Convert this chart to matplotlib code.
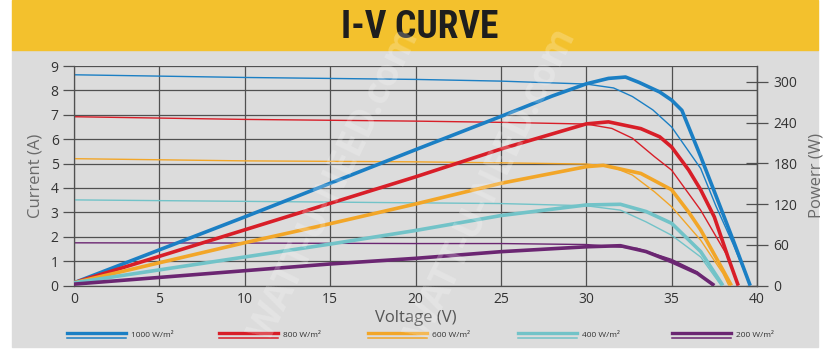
import matplotlib
matplotlib.use("Agg")
import matplotlib.pyplot as plt
from matplotlib import font_manager
from matplotlib.patches import Rectangle
from matplotlib.lines import Line2D

W, H = 840, 350

# ---- data ----
labels = ["1000 W/m²", "800 W/m²", "600 W/m²", "400 W/m²", "200 W/m²"]
colors = ["#1b7fc4", "#d81e28", "#f2a628", "#72c3c8", "#6b2672"]

# current curves (left axis, A)
v_i_1000 = [0, 10, 20, 25, 30, 31.6, 32.7, 33.9, 35, 36.7, 37.6, 38.6, 39.6]
i_1000 = [8.64, 8.53, 8.45, 8.38, 8.26, 8.1, 7.75, 7.2, 6.5, 4.8, 3.25, 1.7, 0]
v_i_800 = [0, 10, 20, 25, 30, 31.5, 32.7, 34, 35, 36.7, 38.3, 38.9]
i_800 = [6.92, 6.81, 6.74, 6.69, 6.62, 6.44, 6.04, 5.28, 4.73, 3.09, 1.17, 0]
v_i_600 = [0, 10, 20, 25, 30, 31.5, 32.7, 34, 35, 36.7, 38, 38.35]
i_600 = [5.2, 5.11, 5.07, 5.03, 4.98, 4.87, 4.53, 3.84, 3.23, 1.86, 0.5, 0]
v_i_400 = [0, 10, 20, 25, 30, 32, 33.5, 35, 36.7, 37.9]
i_400 = [3.51, 3.45, 3.39, 3.36, 3.27, 3.09, 2.61, 2.06, 1.17, 0]
v_i_200 = [0, 10, 20, 25, 30, 33, 35, 36.5, 37.4]
i_200 = [1.75, 1.74, 1.72, 1.72, 1.68, 1.52, 1.07, 0.56, 0]

# power curves (right axis, W)
v_p_1000 = [0, 10, 20, 25, 28, 30, 31.3, 32.3, 33.1, 34.3, 35, 35.6, 36.7, 37.6, 38.6, 39.6]
p_1000 = [4, 101, 200, 249, 279, 297, 305, 307, 299, 285, 273, 258, 190, 132, 67, 0]
v_p_800 = [0, 10, 15, 20, 25, 30, 31.3, 33.2, 34.3, 35, 36, 36.7, 37.5, 38.3, 38.9]
p_800 = [4, 82, 121, 160, 201, 238, 241, 231, 219, 204, 170, 141, 101, 42, 0]
v_p_600 = [0, 10, 15, 20, 25, 30, 31, 33.2, 35, 36, 36.7, 38, 38.5]
p_600 = [4, 63, 91, 120, 150.5, 175, 177, 165, 141, 108, 82, 23, 0]
v_p_400 = [0, 10, 15, 20, 25, 30, 32, 33.5, 35, 36.7, 38]
p_400 = [4, 42, 61, 81, 103, 118.6, 119.6, 109, 91.6, 50, 0]
v_p_200 = [0, 10, 15, 20, 25, 30, 32, 33.5, 35, 36.5, 37.5]
p_200 = [2, 21.8, 31.7, 40, 49.8, 57, 58.6, 50, 35, 18, 0]

current = [(v_i_1000, i_1000), (v_i_800, i_800), (v_i_600, i_600),
           (v_i_400, i_400), (v_i_200, i_200)]
power = [(v_p_1000, p_1000), (v_p_800, p_800), (v_p_600, p_600),
         (v_p_400, p_400), (v_p_200, p_200)]

x_ticks = list(range(0, 41, 5))
i_ticks = list(range(0, 10))
p_ticks = [0, 60, 120, 180, 240, 300]


def fx(px):
    return px / W


def fy(py):
    return 1 - py / H


# pick a narrow bold face for the banner if one is around
installed = {f.name for f in font_manager.fontManager.ttflist}
narrow = [n for n in ["Roboto Condensed", "Liberation Sans Narrow",
                      "Open Sans Condensed", "DejaVu Sans Condensed"] if n in installed]
title_family = narrow[0] if narrow else "DejaVu Sans"
title_size = 27 if narrow else 22

fig = plt.figure(figsize=(W / 100, H / 100), dpi=100)
fig.patch.set_facecolor("white")

# panel background and title banner
fig.patches.append(Rectangle((fx(12), fy(347)), fx(806), 297 / H,
                             transform=fig.transFigure, color="#dcdcdc", zorder=-2))
fig.patches.append(Rectangle((fx(12), fy(50)), fx(806), 50 / H,
                             transform=fig.transFigure, color="#f3c12d", zorder=-2))
fig.text(fx(420), fy(27), "I-V CURVE", ha="center", va="center",
         fontsize=title_size, fontweight="bold", fontstretch="condensed",
         color="#1e1e1e", family=title_family)

grid_c = "#505050"
tick_c = "#333333"
label_c = "#6a6a6a"
font = ["Open Sans", "DejaVu Sans"]

ax = fig.add_axes([fx(74), fy(285.5), fx(683), 219.5 / H])
ax.patch.set_visible(False)
ax.set_xlim(0, 40)
ax.set_ylim(0, 9)
ax.set_xticks(x_ticks)
ax.set_yticks(i_ticks)
ax.grid(True, color=grid_c, linewidth=0.9)
ax.set_axisbelow(True)
for s in ["left", "bottom", "right"]:
    ax.spines[s].set_color(grid_c)
    ax.spines[s].set_linewidth(0.9)
ax.spines["top"].set_visible(False)
ax.tick_params(axis="y", direction="out", length=8, width=0.9, color=grid_c,
               labelsize=10, labelcolor=tick_c, pad=3)
ax.tick_params(axis="x", length=0, labelsize=10, labelcolor=tick_c, pad=5)
for t in ax.get_xticklabels() + ax.get_yticklabels():
    t.set_family(font)
ax.set_ylabel("Current (A)", fontsize=12, color=label_c, family=font, labelpad=5)
ax.set_xlabel("Voltage (V)", fontsize=12, color="#555555", family=font, labelpad=2)

for (v, i), c in zip(current, colors):
    ax.plot(v, i, color=c, linewidth=1.0, solid_capstyle="butt")

ax2 = ax.twinx()
ax2.set_ylim(0, 219.5 / 0.679)
ax2.set_yticks(p_ticks)
for s in ["left", "bottom", "top"]:
    ax2.spines[s].set_visible(False)
ax2.spines["right"].set_color(grid_c)
ax2.spines["right"].set_linewidth(0.9)
ax2.tick_params(axis="y", direction="inout", length=16, width=0.9, color=grid_c,
                labelsize=10, labelcolor=tick_c, pad=4)
for t in ax2.get_yticklabels():
    t.set_family(font)
ax2.set_ylabel("Powerr (W)", fontsize=12, color=label_c, family=font, labelpad=8)

for (v, p), c in zip(power, colors):
    ax2.plot(v, p, color=c, linewidth=2.6, solid_capstyle="butt",
             solid_joinstyle="round")

# legend along the bottom: thick (power) over thin (current)
leg_x = [67, 219, 368, 518, 672]
for x0, c, lab in zip(leg_x, colors, labels):
    fig.add_artist(Line2D([fx(x0), fx(x0 + 59)], [fy(332.7)] * 2,
                          transform=fig.transFigure, color=c, linewidth=2.4))
    fig.add_artist(Line2D([fx(x0), fx(x0 + 59)], [fy(337.8)] * 2,
                          transform=fig.transFigure, color=c, linewidth=1.1))
    fig.text(fx(x0 + 64), fy(335.5), lab, ha="left", va="center",
             fontsize=6, color="#333333", family=font)

# watermark
for cx in [335, 492]:
    fig.text(fx(cx), fy(185), "WATT-U-NEED.com", ha="center", va="center",
             rotation=64, fontsize=27, fontweight="bold", color="white",
             alpha=0.22, family=font, zorder=10)

fig.savefig("out.png", dpi=100)
